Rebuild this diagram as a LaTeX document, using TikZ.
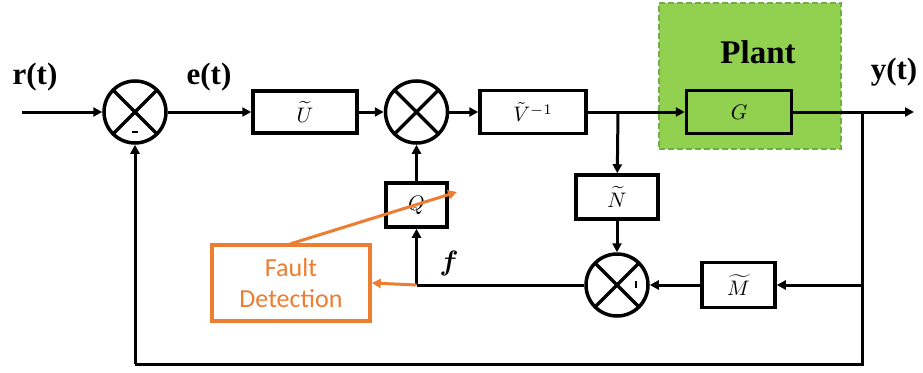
\documentclass[tikz,border=0pt]{standalone}
\usepackage{amsmath}
\usepackage{graphicx}
\usepackage{fontspec}
\setmainfont{Liberation Serif}
\newfontfamily\calib{Carlito}
\usetikzlibrary{arrows.meta}
\definecolor{orng}{HTML}{ED7D31}
\definecolor{plantfill}{HTML}{92D050}
\definecolor{plantedge}{HTML}{70AD47}
\newcommand{\blkmath}[1]{\scalebox{2.1}{$#1$}}
\begin{document}
\begin{tikzpicture}[x=1pt,y=-1pt,
  wire/.style={line width=3pt},
  arr/.style={wire,-{Triangle[length=9pt,width=9pt]}},
  oarr/.style={line width=3pt,orng,-{Triangle[length=9pt,width=9pt]}},
  blk/.style={draw,line width=3.5pt,inner sep=0pt},
  sumnode/.style={draw,circle,line width=3.5pt,minimum size=62pt,inner sep=0pt,
    path picture={\draw[line width=3.5pt] (path picture bounding box.north west)--(path picture bounding box.south east)
      (path picture bounding box.north east)--(path picture bounding box.south west);}},
  sig/.style={font=\bfseries\fontsize{31}{31}\selectfont,inner sep=0pt}
]
\useasboundingbox (0,0) rectangle (923,372);
% plant
\node[fill=plantfill,draw=plantedge,dashed,dash pattern=on 6pt off 3pt,line width=2.5pt,
  minimum width=182pt,minimum height=146pt,inner sep=0pt] (plant) at (750,76) {};
\node[font=\bfseries\fontsize{33}{33}\selectfont,inner sep=0pt] (plantlbl) at (758,52) {Plant};
% nodes
\node[sumnode] (s1) at (135,112) {};
\node[blk,minimum width=104pt,minimum height=42pt] (U) at (305,112) {\blkmath{\widetilde{U}}};
\node[sumnode] (s2) at (416.5,112) {};
\node[blk,minimum width=106pt,minimum height=43pt] (V) at (533,112) {\blkmath{\tilde{V}^{-1}}};
\node[blk,minimum width=105pt,minimum height=43pt] (G) at (739,112) {\blkmath{G}};
\node[blk,minimum width=82pt,minimum height=44pt] (N) at (617,197) {\blkmath{\widetilde{N}}};
\node[sumnode] (s3) at (617,285) {};
\node[blk,minimum width=73pt,minimum height=45pt] (M) at (738.5,285) {\blkmath{\widetilde{M}}};
\node[blk,minimum width=61pt,minimum height=44pt] (Q) at (416.5,205) {\blkmath{Q}};
\node[draw=orng,line width=3.5pt,minimum width=158pt,minimum height=76pt,inner sep=0pt,
  text=orng,align=center,font=\calib\fontsize{26}{31}\selectfont] (F) at (291,283) {Fault\\Detection};
% coordinates
\coordinate (in) at (22,112);
\coordinate (out) at (914,112);
\coordinate (b1) at (618,112);
\coordinate (b2) at (862,112);
\coordinate (b3) at (862,285);
\coordinate (b4) at (862,364);
\coordinate (b5) at (135,364);
\coordinate (fj) at (416.5,285);
\coordinate (otip) at (457,192);
\coordinate (ostart) at (290,244);
% labels
\node[sig] (r) at (35,77) {r(t)};
\node[sig] (e) at (209,77) {e(t)};
\node[sig] (y) at (894,72) {y(t)};
\node[inner sep=0pt] (f) at (449,263) {\scalebox{2.8}{$\boldsymbol{f}$}};
% signs
\draw[line width=1.8pt] (132,132) -- (138,132);
\draw[line width=1.8pt] (636,281) -- (636,288);
% connectors
\draw[arr] (in) -- (s1);
\draw[arr] (s1) -- (U);
\draw[arr] (U) -- (s2);
\draw[arr] (s2) -- (V);
\draw[arr] (V) -- (G);
\draw[arr] (G.east) -- (out);
\draw[arr] (b1) -- (N);
\draw[arr] (N) -- (s3);
\draw[wire] (b2) -- (b4) -- (b5);
\draw[arr] (b5) -- (s1);
\draw[arr] (b3) -- (M);
\draw[arr] (M) -- (s3);
\draw[wire] (s3) -- (fj);
\draw[arr] (fj) -- (Q);
\draw[arr] (Q) -- (s2);
\draw[oarr] (fj) -- (F.east);
\draw[oarr] (ostart) -- (otip);
\end{tikzpicture}
\end{document}
